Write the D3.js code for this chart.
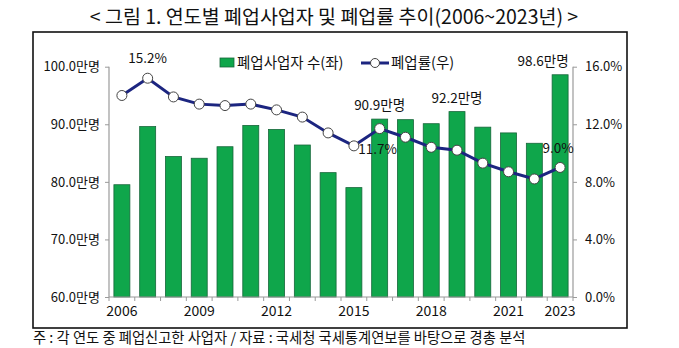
<!DOCTYPE html>
<html><head><meta charset="utf-8">
<script src="https://cdn.jsdelivr.net/npm/d3@7"></script>
<style>
body{margin:0;background:#fff;}
text{font-family:"Noto Sans CJK KR","Noto Sans",sans-serif;fill:#111;}
</style></head>
<body><svg id="c" width="679" height="348"></svg>
<script>
const years = [2006,2007,2008,2009,2010,2011,2012,2013,2014,2015,2016,2017,2018,2019,2020,2021,2022,2023];
const closedBiz = [79.5,89.6,84.4,84.1,86.1,89.8,89.1,86.4,81.6,79.0,90.9,90.8,90.1,92.2,89.5,88.5,86.7,98.6];
const closeRate = [14.0,15.2,13.9,13.4,13.3,13.4,13.0,12.5,11.4,10.5,11.7,11.1,10.4,10.2,9.3,8.7,8.2,9.0];
const leftTicks = [60,70,80,90,100];
const rightTicks = [0,4,8,12,16];
const xLabelYears = [2006,2009,2012,2015,2018,2021,2023];
const barLabels = [{year:2016,text:"90.9만명"},{year:2019,text:"92.2만명"},{year:2023,text:"98.6만명",dx:-17}];
const rateLabels = [{year:2007,text:"15.2%",dy:-20,dx:0},{year:2016,text:"11.7%",dy:20,dx:-2},{year:2023,text:"9.0%",dy:-19,dx:-2}];
const title = "< 그림 1. 연도별 폐업사업자 및 폐업률 추이(2006~2023년) >";
const note = "주 : 각 연도 중 폐업신고한 사업자 / 자료 : 국세청 국세통계연보를 바탕으로 경총 분석";

const svg = d3.select("#c");
const L=109, R=573, T=66.7, B=297;
const x = d3.scaleBand().domain(years).range([L,R]).paddingInner(0.38).paddingOuter(0.19);
const yL = d3.scaleLinear().domain([60,100]).range([B,T]);
const yR = d3.scaleLinear().domain([0,16]).range([B,T]);

svg.append("text").attr("x",334).attr("y",24).attr("text-anchor","middle")
  .style("font-size","19.5px").style("font-weight","400").text(title);
svg.append("rect").attr("x",33).attr("y",32).attr("width",594).attr("height",296)
  .attr("fill","none").attr("stroke","#111").attr("stroke-width",1.6);
svg.append("text").attr("x",33).attr("y",343).style("font-size","14.3px").text(note);

// bars
svg.append("g").selectAll("rect").data(years).join("rect")
  .attr("x",d=>x(d)).attr("width",x.bandwidth())
  .attr("y",(d,i)=>yL(closedBiz[i])).attr("height",(d,i)=>B-yL(closedBiz[i]))
  .attr("fill","#0FA64B").attr("stroke","#17663a").attr("stroke-width",0.8);

// axes
const axisColor="#9a9a9a";
const gl = svg.append("g").attr("transform",`translate(${L},0)`)
  .call(d3.axisLeft(yL).tickValues(leftTicks).tickSize(4).tickPadding(5).tickFormat(d=>d.toFixed(1)+"만명"));
const gr = svg.append("g").attr("transform",`translate(${R},0)`)
  .call(d3.axisRight(yR).tickValues(rightTicks).tickSize(4).tickPadding(8).tickFormat(d=>d.toFixed(1)+"%"));
const gx = svg.append("g").attr("transform",`translate(0,${B})`)
  .call(d3.axisBottom(x).tickValues(xLabelYears).tickSize(0).tickPadding(9));
[gl,gr,gx].forEach(g=>{
  g.selectAll("path").remove();
  g.selectAll("line").attr("stroke",axisColor);
  g.selectAll("text").style("font-family",'"Noto Sans CJK KR",sans-serif').style("font-size","13px").attr("fill","#111");
});
svg.append("line").attr("x1",L).attr("x2",L).attr("y1",T).attr("y2",B).attr("stroke",axisColor).attr("stroke-width",1.2);
svg.append("line").attr("x1",R).attr("x2",R).attr("y1",T).attr("y2",B).attr("stroke",axisColor).attr("stroke-width",1.2);
svg.append("line").attr("x1",L).attr("x2",R).attr("y1",B).attr("y2",B).attr("stroke",axisColor).attr("stroke-width",1.2);
gx.selectAll("text").style("font-size","14px");
// x ticks at band boundaries
const bounds = d3.range(years.length+1).map(i=>L+i*(R-L)/years.length);
svg.append("g").selectAll("line").data(bounds).join("line")
  .attr("x1",d=>d).attr("x2",d=>d).attr("y1",B).attr("y2",B+4).attr("stroke",axisColor);

// line
const cx = d=>x(d)+x.bandwidth()/2;
const line = d3.line().x((d,i)=>cx(years[i])).y(d=>yR(d));
svg.append("path").datum(closeRate).attr("d",line).attr("fill","none")
  .attr("stroke","#1C2580").attr("stroke-width",3);
svg.append("g").selectAll("circle").data(closeRate).join("circle")
  .attr("cx",(d,i)=>cx(years[i])).attr("cy",d=>yR(d)).attr("r",5)
  .attr("fill","#fff").attr("stroke","#444").attr("stroke-width",1);

// labels
barLabels.forEach(b=>{
  const i=years.indexOf(b.year);
  svg.append("text").attr("x",cx(b.year)+(b.dx||0)).attr("y",yL(closedBiz[i])-9)
    .attr("text-anchor","middle").style("font-size","13.5px").text(b.text);
});
rateLabels.forEach(b=>{
  const i=years.indexOf(b.year);
  svg.append("text").attr("x",cx(b.year)+b.dx).attr("y",yR(closeRate[i])+b.dy+5)
    .attr("text-anchor","middle").style("font-size","13.5px").text(b.text);
});

// legend
const lg = svg.append("g");
lg.append("rect").attr("x",220).attr("y",58).attr("width",14).attr("height",9)
  .attr("fill","#0FA64B").attr("stroke","#17663a").attr("stroke-width",0.8);
lg.append("text").attr("x",237).attr("y",68).style("font-size","14.5px").text("폐업사업자 수(좌)");
lg.append("line").attr("x1",361).attr("x2",389).attr("y1",63).attr("y2",63).attr("stroke","#1C2580").attr("stroke-width",3);
lg.append("circle").attr("cx",375).attr("cy",63).attr("r",4.5).attr("fill","#fff").attr("stroke","#444");
lg.append("text").attr("x",391).attr("y",68).style("font-size","14.5px").text("폐업률(우)");
</script></body></html>
